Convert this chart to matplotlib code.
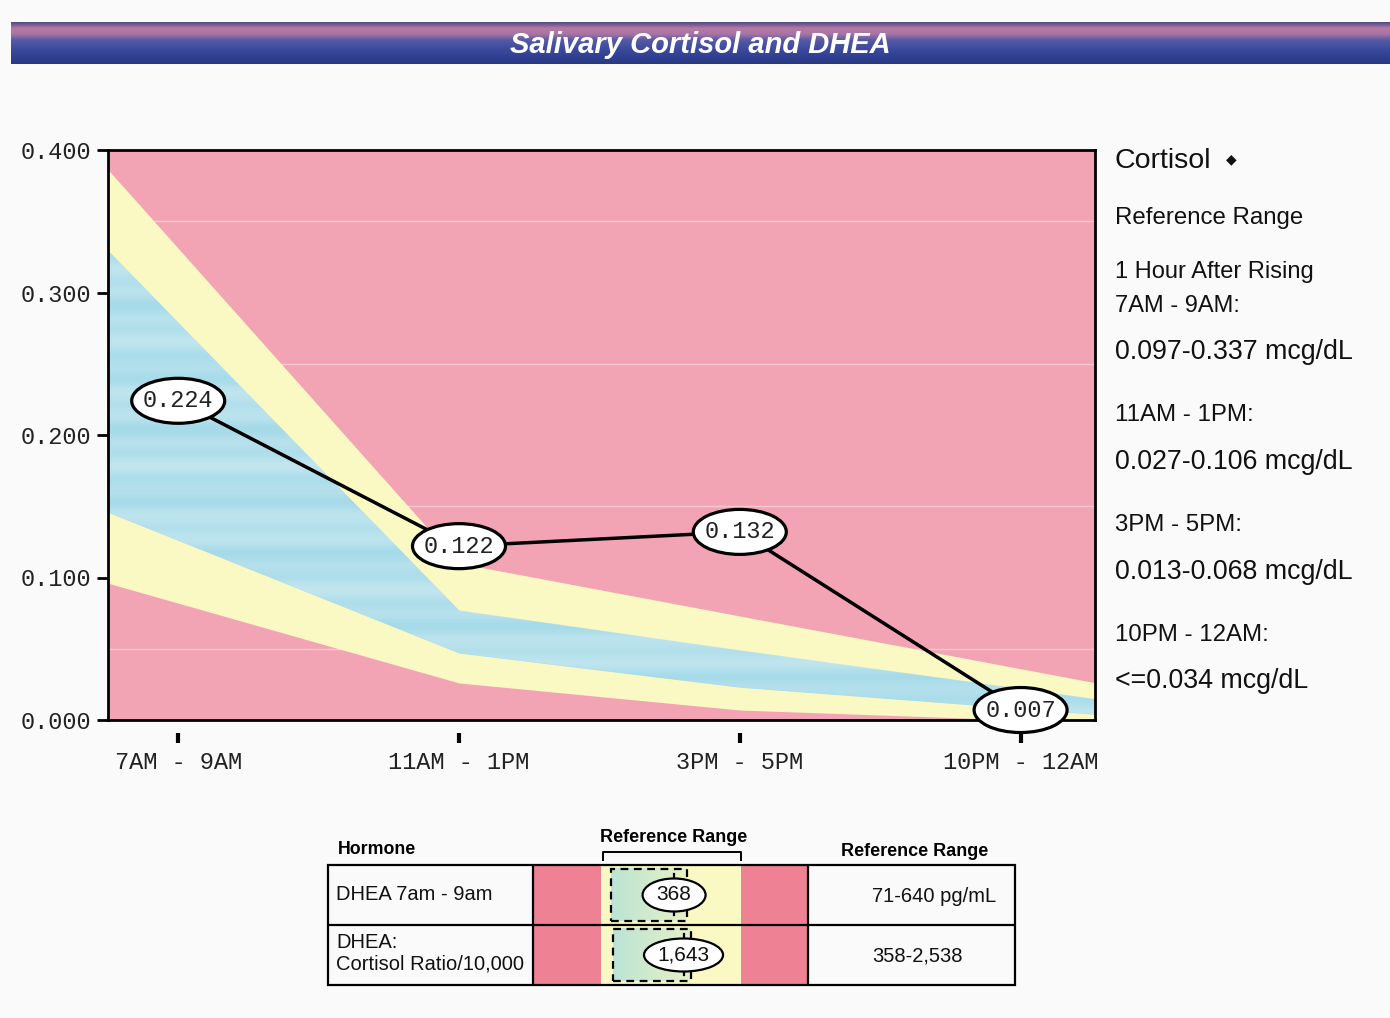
import numpy as np
import matplotlib
matplotlib.use("Agg")
import matplotlib.pyplot as plt
from matplotlib.patches import Ellipse, Rectangle
from matplotlib.lines import Line2D
from matplotlib.colors import LinearSegmentedColormap

# ---------------- data ----------------
time_labels = ["7AM - 9AM", "11AM - 1PM", "3PM - 5PM", "10PM - 12AM"]
cortisol = [0.224, 0.122, 0.132, 0.007]
cortisol_text = ["0.224", "0.122", "0.132", "0.007"]
# reference band boundaries at each collection time
outer_top = [0.331, 0.110, 0.073, 0.036]
inner_top = [0.279, 0.077, 0.049, 0.022]
inner_bottom = [0.126, 0.047, 0.023, 0.008]
outer_bottom = [0.082, 0.026, 0.007, 0.000]
y_ticks = [0.0, 0.1, 0.2, 0.3, 0.4]

panel_title = "Cortisol"
panel_lines = ["Reference Range", "1 Hour After Rising", "7AM - 9AM:",
               "0.097-0.337 mcg/dL", "11AM - 1PM:", "0.027-0.106 mcg/dL",
               "3PM - 5PM:", "0.013-0.068 mcg/dL", "10PM - 12AM:",
               "<=0.034 mcg/dL"]

dhea_names = ["DHEA 7am - 9am", "DHEA:\nCortisol Ratio/10,000"]
dhea_values = [368, 1643]
dhea_value_text = ["368", "1,643"]
dhea_low = [71, 358]
dhea_high = [640, 2538]
dhea_box_low = [112, 545]
dhea_box_high = [420, 1759]
dhea_range_text = ["71-640 pg/mL", "358-2,538"]

# ---------------- style ----------------
W, H = 1390, 1018
def fx(x): return x / W
def fy(y): return 1 - y / H

PINK = "#F2A4B5"
YELLOW = "#FAF8C3"
BLUE = "#A9DCEA"
TPINK = "#EE8194"
MONO = "Liberation Mono"
SANS = "Liberation Sans"

fig = plt.figure(figsize=(W / 100, H / 100), dpi=100)
fig.patch.set_facecolor("#FAFAFA")

# ---- title bar ----
axt = fig.add_axes([fx(11), fy(64), (W - 11) / W, (64 - 22) / H])
bar_cmap = LinearSegmentedColormap.from_list(
    "bar", ["#4d4a8c", "#b878a6", "#a874a4", "#565aa4", "#4450a0",
            "#38469a", "#2f3f90", "#2a3986"])
axt.imshow(np.linspace(0, 1, 100)[:, None], cmap=bar_cmap, aspect="auto",
           extent=[0, 1, 0, 1])
axt.set_axis_off()
fig.text(fx(700), fy(45), "Salivary Cortisol and DHEA", color="white",
         fontsize=21, fontweight="bold", style="italic", family=SANS,
         ha="center", va="center")

# ---- main chart ----
XMIN, XMAX = -0.25, 3.265
AX_L, AX_R, AX_T, AX_B = 108, 1095, 150, 720
ax = fig.add_axes([fx(AX_L), fy(AX_B), (AX_R - AX_L) / W, (AX_B - AX_T) / H])
ax.set_xlim(XMIN, XMAX)
ax.set_ylim(0, 0.4)
ax.set_facecolor(PINK)

n = len(cortisol)
def extend(vals):
    v = np.asarray(vals, float)
    left = v[0] - (v[1] - v[0]) * (0 - XMIN)
    right = v[-1] + (v[-1] - v[-2]) * (XMAX - (len(v) - 1))
    return np.concatenate([[left], v, [right]])
xs = np.concatenate([[XMIN], np.arange(n), [XMAX]])

ax.set_yticks(np.arange(0.05, 0.4, 0.05), minor=True)
ax.grid(True, which="minor", axis="y", color="white", alpha=0.4, lw=1)
ax.set_axisbelow(True)
ax.fill_between(xs, extend(outer_bottom), extend(outer_top), color=YELLOW,
                lw=0, zorder=1)
blue_poly = ax.fill_between(xs, extend(inner_bottom), extend(inner_top),
                            color=BLUE, lw=0, zorder=1.1)
# faint horizontal streak texture inside the normal band (scan look)
yy = np.linspace(0, 1, 400)
streak = (0.5 + 0.25 * np.sin(yy * 2 * np.pi * 23) +
          0.25 * np.sin(yy * 2 * np.pi * 9 + 1.3))
tex = np.tile(streak[:, None], (1, 20))
tex_cmap = LinearSegmentedColormap.from_list("tex", ["#A3D9E8", "#D6EEF3"])
im = ax.imshow(tex, cmap=tex_cmap, aspect="auto", alpha=0.55,
               extent=[XMIN, XMAX, 0, 0.4], zorder=1.2, origin="lower")
im.set_clip_path(blue_poly.get_paths()[0], transform=ax.transData)
ax.set_xlim(XMIN, XMAX)
ax.set_ylim(0, 0.4)

ax.plot(np.arange(n), cortisol, color="black", lw=2.5, zorder=3)
dx = (XMAX - XMIN) / (AX_R - AX_L)
dy = 0.4 / (AX_B - AX_T)
for i, (v, t) in enumerate(zip(cortisol, cortisol_text)):
    ax.add_patch(Ellipse((i, v), 93 * dx, 45 * dy, facecolor="white",
                         edgecolor="black", lw=2.3, zorder=5, clip_on=False))
    ax.text(i, v, t, ha="center", va="center", fontsize=17, family=MONO,
            color="#222222", zorder=6, clip_on=False)

for s in ax.spines.values():
    s.set_linewidth(2)
    s.set_color("black")
ax.spines["bottom"].set_position(("outward", 9))
ax.spines["bottom"].set_visible(False)
ax.add_line(Line2D([0, 1], [0, 0], transform=ax.transAxes, color="black",
                   lw=2, clip_on=False, zorder=2.5))

ax.set_yticks(y_ticks)
ax.set_yticklabels([f"{v:.3f}" for v in y_ticks])
ax.set_xticks(np.arange(n))
ax.set_xticklabels(time_labels)
ax.tick_params(axis="y", which="major", length=8, width=2, pad=4,
               labelsize=17, labelcolor="#222222")
ax.tick_params(axis="y", which="minor", length=0)
ax.tick_params(axis="x", length=7, width=3, pad=6, labelsize=17,
               labelcolor="#222222")
for lab in ax.get_xticklabels() + ax.get_yticklabels():
    lab.set_fontfamily(MONO)

# ---- right side panel ----
panel_y = [218, 272, 306, 352, 415, 462, 525, 572, 635, 681]
panel_size = [17.3, 17, 17, 19.3, 17.3, 19.3, 17.3, 19.3, 17.3, 19.3]
fig.text(fx(1114), fy(161), panel_title, fontsize=20.5, family=SANS,
         ha="left", va="center", color="#111111")
fig.text(fx(1231), fy(159), "\u25C6", fontsize=10, family="DejaVu Sans",
         ha="center", va="center", color="#111111")
for t, y, s in zip(panel_lines, panel_y, panel_size):
    fig.text(fx(1115), fy(y), t, fontsize=s, family=SANS, ha="left",
             va="center", color="#111111")

# ---- DHEA table ----
T_L, T_R, T_T, T_B = 328, 1015, 865, 985
C1, C2 = 533, 808
Y0, Y1 = 601, 741  # yellow zone (reference range) pixel edges
rowpx = (T_B - T_T) / 2

axb = fig.add_axes([fx(C1), fy(T_B), (C2 - C1) / W, (T_B - T_T) / H])
bx_min = -(Y0 - C1) / (Y1 - Y0)
bx_max = 1 + (C2 - Y1) / (Y1 - Y0)
axb.axvspan(bx_min, bx_max, color=TPINK, lw=0, zorder=0)
axb.axvspan(0, 1, color=YELLOW, lw=0, zorder=1)
grad = LinearSegmentedColormap.from_list("g", ["#BCE4D5", "#E6F1C6"])
ell_w_px = [63, 79]
for i in range(len(dhea_values)):
    y0 = len(dhea_values) - 1 - i
    lo, hi = dhea_low[i], dhea_high[i]
    f = lambda v: (v - lo) / (hi - lo)
    b0, b1 = f(dhea_box_low[i]), f(dhea_box_high[i])
    axb.imshow(np.linspace(0, 1, 60)[None, :], cmap=grad, aspect="auto",
               extent=[b0, b1, y0 + 0.06, y0 + 0.94], zorder=2)
    axb.add_patch(Rectangle((b0, y0 + 0.06), b1 - b0, 0.88, fill=False,
                            ls=(0, (3.5, 2.5)), lw=1.6, ec="black", zorder=3))
    fv = f(dhea_values[i])
    axb.add_line(Line2D([fv, fv], [y0 + 0.17, y0 + 0.85], color="black",
                        lw=1.6, zorder=3.5))
    axb.add_patch(Ellipse((fv, y0 + 0.5), ell_w_px[i] / (Y1 - Y0),
                          33 / rowpx, facecolor="white", edgecolor="black",
                          lw=1.6, zorder=4))
    axb.text(fv, y0 + 0.5, dhea_value_text[i], ha="center", va="center",
             fontsize=15, family=SANS, zorder=5, color="#111111")
axb.set_xlim(bx_min, bx_max)
axb.set_ylim(0, 2)
axb.set_axis_off()

axtab = fig.add_axes([fx(T_L), fy(T_B), (T_R - T_L) / W, (T_B - T_T) / H])
axtab.set_xlim(0, 1)
axtab.set_ylim(0, 2)
axtab.set_axis_off()
axtab.add_patch(Rectangle((0, 0), 1, 2, fill=False, lw=1.6, ec="black",
                          clip_on=False))
axtab.add_line(Line2D([0, 1], [1, 1], color="black", lw=1.6))
for c in (C1, C2):
    xc = (c - T_L) / (T_R - T_L)
    axtab.add_line(Line2D([xc, xc], [0, 2], color="black", lw=1.6))

# bracket over reference range
fig.add_artist(Line2D([fx(603), fx(603), fx(741), fx(741)],
                      [fy(860), fy(852), fy(852), fy(860)],
                      color="black", lw=1.4))
fig.text(fx(674), fy(838), "Reference Range", fontsize=13,
         fontweight="bold", family=SANS, ha="center", va="center")
fig.text(fx(338), fy(849), "Hormone", fontsize=12.8, fontweight="bold",
         family=SANS, ha="left", va="center")
fig.text(fx(915), fy(851), "Reference Range", fontsize=13,
         fontweight="bold", family=SANS, ha="center", va="center")

name_y = [894, 953]
range_x = [934, 917]
range_y = [896, 956]
for i in range(len(dhea_names)):
    fig.text(fx(336), fy(name_y[i]), dhea_names[i], fontsize=14.5,
             family=SANS, ha="left", va="center", linespacing=1.2,
             color="#111111")
    fig.text(fx(range_x[i]), fy(range_y[i]), dhea_range_text[i],
             fontsize=14.5, family=SANS, ha="center", va="center",
             color="#111111")

fig.savefig("out.png", dpi=100, facecolor=fig.get_facecolor())
